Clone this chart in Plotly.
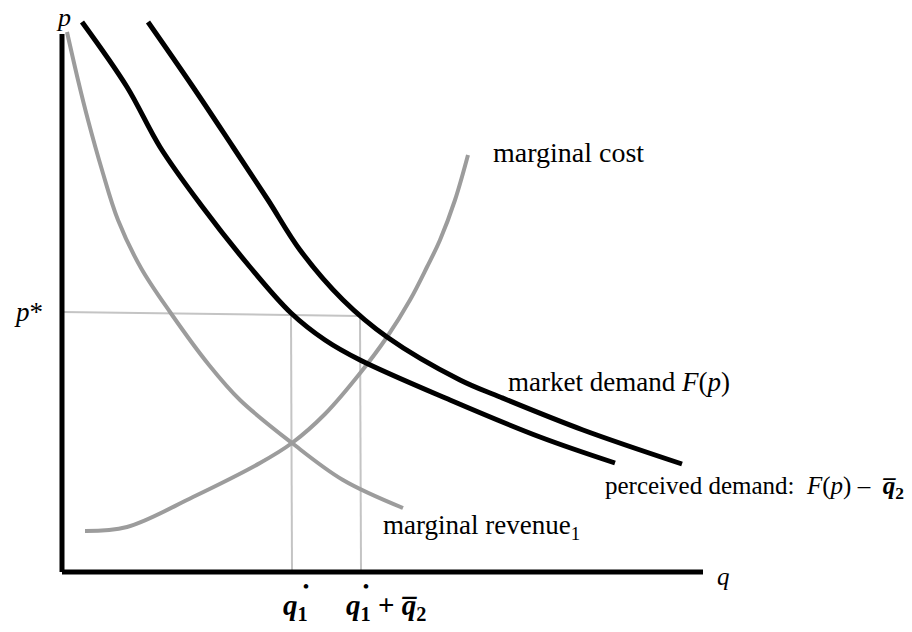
import plotly.graph_objects as go

# ---- data (q = quantity, p = price) ----
market_q = [86, 131, 171, 206, 238, 281, 325, 398, 438, 521, 620]
market_p = [550, 485, 425, 372, 322, 272, 235, 192, 175, 142, 108]

perceived_q = [20, 65, 98, 139, 188, 229, 263, 298, 388, 478, 553]
perceived_p = [550, 485, 425, 367, 305, 259, 232, 212, 172, 135, 109]

mr_q = [5, 16, 26, 40, 56, 79, 108, 147, 178, 230, 281, 341]
mr_p = [540, 492, 452, 402, 352, 304, 260, 207, 172, 129, 92, 64]

mc_q = [23, 65, 131, 198, 230, 263, 299, 325, 348, 365, 378, 393, 406]
mc_p = [41, 45, 75, 109, 129, 158, 200, 235, 272, 305, 332, 372, 417]

p_axis_top = 538
q_axis_end = 641
p_star_left = 260
p_star_right = 256
q1_star = 229
q1_plus_q2 = 298

BLACK = "#000000"
GRAY = "#9c9c9c"
LIGHT = "#c4c4c4"
FONT = "Liberation Serif, Times New Roman, serif"

fig = go.Figure()

def line(x, y, color, width, shape="linear"):
    fig.add_trace(go.Scatter(x=x, y=y, mode="lines",
                             line=dict(color=color, width=width, shape=shape, smoothing=1.0),
                             hoverinfo="skip", showlegend=False))

# guide lines
line([0, q1_plus_q2], [p_star_left, p_star_right], LIGHT, 2)
line([q1_star, q1_star + 1], [p_star_left - 1, 0], LIGHT, 2)
line([q1_plus_q2, q1_plus_q2 + 1], [p_star_right, 0], LIGHT, 2)

# curves
line(mr_q, mr_p, GRAY, 4, "spline")
line(mc_q, mc_p, GRAY, 4, "spline")
line(perceived_q, perceived_p, BLACK, 5, "spline")
line(market_q, market_p, BLACK, 5, "spline")

# axes
line([0, 0], [0, p_axis_top], BLACK, 5)
line([0, q_axis_end], [0, 0], BLACK, 5)

ann = []
def txt(x, y, s, size=26, xanchor="left", yanchor="middle", color=BLACK):
    ann.append(dict(x=x, y=y, xref="x", yref="y", text=s, showarrow=False,
                    xanchor=xanchor, yanchor=yanchor, borderpad=0,
                    font=dict(family=FONT, size=size, color=color)))

txt(1, 539, "<i>p</i>", 26, "center", "bottom")
txt(-34, 260, "<i>p</i>*", 27, "center")
txt(661, -4, "<i>q</i>", 25, "center")
txt(430, 420, "marginal cost", 28)
txt(445, 190, "market demand <i>F</i>(<i>p</i>)", 27)
txt(843, 85, "perceived demand:  <i>F</i>(<i>p</i>) –  "
             "<b><i>q\u0305</i><sub>2</sub></b>", 25, "right")
txt(320, 45, "marginal revenue<sub>1</sub>", 27)

txt(q1_star + 4, -35, "<b><i>q</i><sub>1</sub></b>", 29, "center")
txt(q1_star + 15, -14, "<b>•</b>", 17, "center")
txt(q1_plus_q2 + 26, -35, "<b><i>q</i><sub>1</sub> + <i>q\u0305</i><sub>2</sub></b>", 29, "center")
txt(q1_plus_q2 + 6, -14, "<b>•</b>", 17, "center")

# the page body has an 8px margin, so the ranges are shifted to keep the
# axes corner at the same place as in the reference
fig.update_layout(
    width=912, height=632,
    margin=dict(l=0, r=0, t=0, b=0),
    paper_bgcolor="white", plot_bgcolor="white",
    xaxis=dict(range=[-54, 858], visible=False, fixedrange=True),
    yaxis=dict(range=[-68, 564], visible=False, fixedrange=True),
    annotations=ann,
    showlegend=False,
)

fig.write_html("out.html")
